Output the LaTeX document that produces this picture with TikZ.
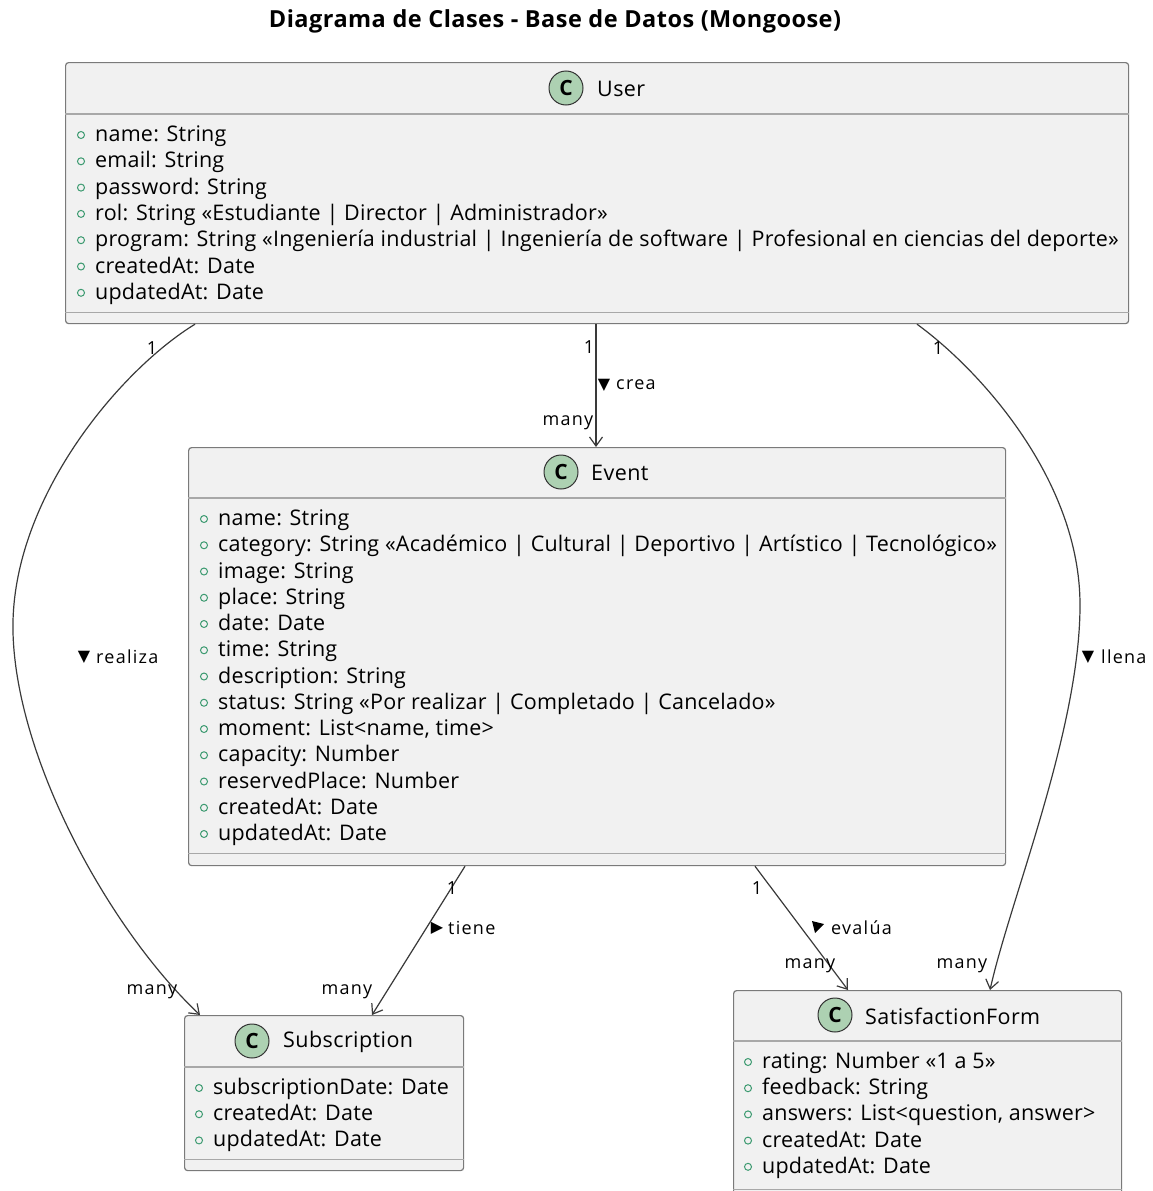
\documentclass[tikz,border=0pt]{standalone}
\usepackage{fontspec}
\setmainfont{Open Sans}
\newfontfamily\symfont{DejaVu Sans}
\usetikzlibrary{arrows.meta,calc}
\definecolor{boxfill}{HTML}{F1F1F1}
\definecolor{boxline}{HTML}{7A7A7A}
\definecolor{sepline}{HTML}{A8A8A8}
\definecolor{cfill}{HTML}{ADD1B2}
\definecolor{pubgreen}{HTML}{3C9A70}
\definecolor{conncol}{HTML}{3A3A3A}
\begin{document}
\begin{tikzpicture}[x=1pt,y=-1pt,
  cls/.style={draw=boxline, fill=boxfill, line width=1.2pt, rounded corners=3pt, anchor=north west, inner sep=0pt},
  sep/.style={draw=sepline, line width=1.2pt},
  cicon/.style={circle, draw=black!80, fill=cfill, line width=1pt, minimum size=34pt, inner sep=0pt, font=\fontsize{21}{21}\selectfont\bfseries},
  cname/.style={anchor=west, inner sep=0pt, font=\fontsize{21.5}{24}\selectfont\addfontfeature{LetterSpace=2}},
  attr/.style={anchor=west, inner sep=0pt, text height=15pt, text depth=4pt, font=\fontsize{21.5}{24}\selectfont\addfontfeature{LetterSpace=1}},
  pub/.style={draw=pubgreen, line width=1pt},
  conn/.style={draw=conncol, line width=1.2pt, -{Straight Barb[length=9pt,width=13pt,line width=1.2pt]}},
  lbl/.style={inner sep=0pt, font=\fontsize{18}{20}\selectfont\addfontfeature{LetterSpace=7}},
  tri/.style={inner sep=0pt, font=\symfont\fontsize{16}{16}\selectfont},
]
\useasboundingbox (0,0) rectangle (1153,1191);

\node[font=\fontsize{23.5}{26}\selectfont\bfseries\addfontfeature{LetterSpace=2}] (title) at (555,21) {Diagrama de Clases - Base de Datos (Mongoose)};

% ---- User
\node[cls, minimum width=1063pt, minimum height=261pt] (user) at (65,62) {};
\draw[sep] ($(user.north west)+(0,52)$) -- ($(user.north east)+(0,52)$);
\draw[sep] ($(user.south west)+(0,-12)$) -- ($(user.south east)+(0,-12)$);
\node[cicon] (uc) at (566,88) {C};
\node[cname] (un) at (597,89) {User};
\foreach \t [count=\i] in {{name: String},{email: String},{password: String},{rol: String «Estudiante | Director | Administrador»},{program: String «Ingeniería industrial | Ingeniería de software | Profesional en ciencias del deporte»},{createdAt: Date},{updatedAt: Date}}{
  \node[attr] (ua\i) at (95,{136+(\i-1)*26.3}) {\t};
  \draw[pub] ($(ua\i.west)+(-14,-1)$) circle (3.5);
}

% ---- Event
\node[cls, minimum width=817pt, minimum height=418pt] (event) at (188,447) {};
\draw[sep] ($(event.north west)+(0,51)$) -- ($(event.north east)+(0,51)$);
\draw[sep] ($(event.south west)+(0,-13)$) -- ($(event.south east)+(0,-13)$);
\node[cicon] (ec) at (561,472) {C};
\node[cname] (en) at (591,473) {Event};
\foreach \t [count=\i] in {{name: String},{category: String «Académico | Cultural | Deportivo | Artístico | Tecnológico»},{image: String},{place: String},{date: Date},{time: String},{description: String},{status: String «Por realizar | Completado | Cancelado»},{moment: List<name, time>},{capacity: Number},{reservedPlace: Number},{createdAt: Date},{updatedAt: Date}}{
  \node[attr] (ea\i) at (218,{520+(\i-1)*26.25}) {\t};
  \draw[pub] ($(ea\i.west)+(-14,-1)$) circle (3.5);
}

% ---- Subscription
\node[cls, minimum width=279pt, minimum height=155pt] (subs) at (184,1015) {};
\draw[sep] ($(subs.north west)+(0,52)$) -- ($(subs.north east)+(0,52)$);
\draw[sep] ($(subs.south west)+(0,-12)$) -- ($(subs.south east)+(0,-12)$);
\node[cicon] (sc) at (252,1041) {C};
\node[cname] (sn) at (283,1042) {Subscription};
\foreach \t [count=\i] in {{subscriptionDate: Date},{createdAt: Date},{updatedAt: Date}}{
  \node[attr] (sa\i) at (213,{1089+(\i-1)*26.2}) {\t};
  \draw[pub] ($(sa\i.west)+(-14,-1)$) circle (3.5);
}

% ---- SatisfactionForm
\node[cls, minimum width=388pt, minimum height=212pt] (sform) at (733,990) {};
\draw[sep] ($(sform.north west)+(0,51)$) -- ($(sform.north east)+(0,51)$);
\draw[sep] ($(sform.south west)+(0,-14)$) -- ($(sform.south east)+(0,-14)$);
\node[cicon] (fc) at (835,1015) {C};
\node[cname] (fn) at (865,1016) {SatisfactionForm};
\foreach \t [count=\i] in {{rating: Number «1 a 5»},{feedback: String},{answers: List<question, answer>},{createdAt: Date},{updatedAt: Date}}{
  \node[attr] (fa\i) at (762,{1063+(\i-1)*26.2}) {\t};
  \draw[pub] ($(fa\i.west)+(-14,-1)$) circle (3.5);
}

% ---- connectors
\draw[conn] ($(user.south west)+(130,0)$) .. controls (120,370) and (10,500) .. (13,632)
  .. controls (16,760) and (110,930) .. ($(subs.north west)+(16,0)$);
\draw[conn] ($(user.south west)+(531,0)$) -- ($(event.north west)+(408,0)$);
\draw[conn] ($(user.south west)+(852,0)$) .. controls (980,370) and (1080,480) .. (1080,605)
  .. controls (1080,730) and (1010,900) .. ($(sform.north west)+(257,0)$);
\draw[conn] ($(event.south west)+(277,0)$) -- ($(subs.north west)+(188,0)$);
\draw[conn] ($(event.south west)+(567,0)$) -- ($(sform.north west)+(115,0)$);

% ---- labels
\node[lbl] (l1a) at (152,348) {1};
\node[lbl] (l1b) at (152,992) {many};
\node[tri] (l1t) at (84,657) {▼};
\node[lbl, anchor=west] (l1c) at (96,657) {realiza};
\node[lbl] (l2a) at (589,347) {1};
\node[lbl] (l2b) at (568,423) {many};
\node[tri] (l2t) at (604,385) {▼};
\node[lbl, anchor=west] (l2c) at (616,385) {crea};
\node[lbl] (l3a) at (938,348) {1};
\node[lbl] (l3b) at (962,966) {many};
\node[tri] (l3t) at (1088,657) {▼};
\node[lbl, anchor=west] (l3c) at (1101,657) {llena};
\node[lbl] (l4a) at (452,888) {1};
\node[lbl] (l4b) at (347,992) {many};
\node[tri] (l4t) at (437,928) {▶};
\node[lbl, anchor=west] (l4c) at (448,928) {tiene};
\node[lbl] (l5a) at (757,888) {1};
\node[lbl] (l5b) at (810,966) {many};
\coordinate (l5t) at (818,927);
\fill[black] ($(l5t)+(-6,-6)$) -- ($(l5t)+(6,-3)$) -- ($(l5t)+(-3,6)$) -- cycle;
\node[lbl, anchor=west] (l5c) at (831,928) {evalúa};
\end{tikzpicture}
\end{document}
